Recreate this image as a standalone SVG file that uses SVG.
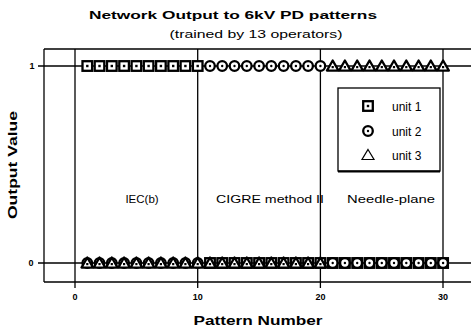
<svg xmlns="http://www.w3.org/2000/svg" xmlns:xlink="http://www.w3.org/1999/xlink" width="471" height="330" viewBox="0 0 471 330">
<style>
.ln{stroke:#000;stroke-width:1.3;fill:none}
.t{font-family:"Liberation Sans",Arial,sans-serif;fill:#000}
.b{font-weight:bold}
.mk{fill:#fff;stroke:#000;stroke-width:2.3}
</style>
<defs>
<g id="sq"><rect class="mk" x="-4.8" y="-4.8" width="9.6" height="9.6"/><rect x="-1.2" y="-1.2" width="2.4" height="2.4" fill="#000"/></g>
<g id="ci"><circle class="mk" r="4.8"/><circle r="1.2" fill="#000"/></g>
<g id="tr"><polygon class="mk" points="0,-5.5 5.8,4.6 -5.8,4.6" stroke-linejoin="round"/><rect x="-1.1" y="0" width="2.2" height="2.2" fill="#000"/></g>
</defs>
<rect width="471" height="330" fill="#fff"/>
<g id="axes">
<line class="ln" x1="44" y1="49" x2="471" y2="49"/>
<line class="ln" x1="44" y1="49" x2="44" y2="282"/>
<line class="ln" x1="44" y1="282" x2="471" y2="282"/>
<line class="ln" x1="75" y1="49" x2="75" y2="288"/>
<line class="ln" x1="197.7" y1="49" x2="197.7" y2="288"/>
<line class="ln" x1="320.4" y1="49" x2="320.4" y2="288"/>
<line class="ln" x1="443" y1="49" x2="443" y2="288"/>
<line class="ln" x1="38" y1="66" x2="471" y2="66"/>
<line class="ln" x1="38" y1="263" x2="471" y2="263"/>
</g>
<g id="markers">
<use xlink:href="#sq" x="87.3" y="66"/><use xlink:href="#sq" x="99.5" y="66"/><use xlink:href="#sq" x="111.8" y="66"/><use xlink:href="#sq" x="124.1" y="66"/><use xlink:href="#sq" x="136.4" y="66"/><use xlink:href="#sq" x="148.6" y="66"/><use xlink:href="#sq" x="160.9" y="66"/><use xlink:href="#sq" x="173.2" y="66"/><use xlink:href="#sq" x="185.4" y="66"/><use xlink:href="#sq" x="197.7" y="66"/>
<use xlink:href="#ci" x="210" y="66"/><use xlink:href="#ci" x="222.2" y="66"/><use xlink:href="#ci" x="234.5" y="66"/><use xlink:href="#ci" x="246.8" y="66"/><use xlink:href="#ci" x="259.1" y="66"/><use xlink:href="#ci" x="271.3" y="66"/><use xlink:href="#ci" x="283.6" y="66"/><use xlink:href="#ci" x="295.9" y="66"/><use xlink:href="#ci" x="308.1" y="66"/><use xlink:href="#ci" x="320.4" y="66"/>
<use xlink:href="#tr" x="332.7" y="66"/><use xlink:href="#tr" x="344.9" y="66"/><use xlink:href="#tr" x="357.2" y="66"/><use xlink:href="#tr" x="369.5" y="66"/><use xlink:href="#tr" x="381.8" y="66"/><use xlink:href="#tr" x="394" y="66"/><use xlink:href="#tr" x="406.3" y="66"/><use xlink:href="#tr" x="418.6" y="66"/><use xlink:href="#tr" x="430.8" y="66"/><use xlink:href="#tr" x="443.1" y="66"/>
<use xlink:href="#ci" x="87.3" y="263"/><use xlink:href="#ci" x="99.5" y="263"/><use xlink:href="#ci" x="111.8" y="263"/><use xlink:href="#ci" x="124.1" y="263"/><use xlink:href="#ci" x="136.4" y="263"/><use xlink:href="#ci" x="148.6" y="263"/><use xlink:href="#ci" x="160.9" y="263"/><use xlink:href="#ci" x="173.2" y="263"/><use xlink:href="#ci" x="185.4" y="263"/><use xlink:href="#ci" x="197.7" y="263"/>
<use xlink:href="#sq" x="210" y="263"/><use xlink:href="#sq" x="222.2" y="263"/><use xlink:href="#sq" x="234.5" y="263"/><use xlink:href="#sq" x="246.8" y="263"/><use xlink:href="#sq" x="259.1" y="263"/><use xlink:href="#sq" x="271.3" y="263"/><use xlink:href="#sq" x="283.6" y="263"/><use xlink:href="#sq" x="295.9" y="263"/><use xlink:href="#sq" x="308.1" y="263"/><use xlink:href="#sq" x="320.4" y="263"/>
<use xlink:href="#tr" x="87.3" y="263"/><use xlink:href="#tr" x="99.5" y="263"/><use xlink:href="#tr" x="111.8" y="263"/><use xlink:href="#tr" x="124.1" y="263"/><use xlink:href="#tr" x="136.4" y="263"/><use xlink:href="#tr" x="148.6" y="263"/><use xlink:href="#tr" x="160.9" y="263"/><use xlink:href="#tr" x="173.2" y="263"/><use xlink:href="#tr" x="185.4" y="263"/><use xlink:href="#tr" x="197.7" y="263"/>
<use xlink:href="#tr" x="210" y="263"/><use xlink:href="#tr" x="222.2" y="263"/><use xlink:href="#tr" x="234.5" y="263"/><use xlink:href="#tr" x="246.8" y="263"/><use xlink:href="#tr" x="259.1" y="263"/><use xlink:href="#tr" x="271.3" y="263"/><use xlink:href="#tr" x="283.6" y="263"/><use xlink:href="#tr" x="295.9" y="263"/><use xlink:href="#tr" x="308.1" y="263"/><use xlink:href="#tr" x="320.4" y="263"/>
<use xlink:href="#sq" x="332.7" y="263"/><use xlink:href="#sq" x="344.9" y="263"/><use xlink:href="#sq" x="357.2" y="263"/><use xlink:href="#sq" x="369.5" y="263"/><use xlink:href="#sq" x="381.8" y="263"/><use xlink:href="#sq" x="394" y="263"/><use xlink:href="#sq" x="406.3" y="263"/><use xlink:href="#sq" x="418.6" y="263"/><use xlink:href="#sq" x="430.8" y="263"/><use xlink:href="#sq" x="443.1" y="263"/>
<use xlink:href="#ci" x="332.7" y="263"/><use xlink:href="#ci" x="344.9" y="263"/><use xlink:href="#ci" x="357.2" y="263"/><use xlink:href="#ci" x="369.5" y="263"/><use xlink:href="#ci" x="381.8" y="263"/><use xlink:href="#ci" x="394" y="263"/><use xlink:href="#ci" x="406.3" y="263"/><use xlink:href="#ci" x="418.6" y="263"/><use xlink:href="#ci" x="430.8" y="263"/><use xlink:href="#ci" x="443.1" y="263"/>
</g>
<g id="legend">
<rect x="338" y="88" width="102" height="83" fill="#fff" stroke="#000" stroke-width="1.3"/>
<line x1="338" y1="171.5" x2="440" y2="171.5" stroke="#000" stroke-width="2"/>
<use xlink:href="#sq" x="368" y="106"/>
<use xlink:href="#ci" x="368" y="131"/>
<g transform="translate(368,155)"><polygon points="0,-5.5 6,4.5 -6,4.5" fill="#fff" stroke="#000" stroke-width="1.2"/></g>
<text class="t" x="392" y="111" font-size="12">unit 1</text>
<text class="t" x="392" y="136" font-size="12">unit 2</text>
<text class="t" x="392" y="160" font-size="12">unit 3</text>
</g>
<g id="labels">
<text class="t b" x="233" y="19" font-size="11.5" text-anchor="middle" textLength="288" lengthAdjust="spacingAndGlyphs">Network Output to 6kV PD patterns</text>
<text class="t" x="256" y="38" font-size="11" text-anchor="middle" textLength="173" lengthAdjust="spacingAndGlyphs">(trained by 13 operators)</text>
<text class="t" x="142" y="203" font-size="11.5" text-anchor="middle">IEC(b)</text>
<text class="t" x="270" y="203" font-size="11" text-anchor="middle" textLength="108" lengthAdjust="spacingAndGlyphs">CIGRE method II</text>
<text class="t" x="391" y="203" font-size="11" text-anchor="middle" textLength="88" lengthAdjust="spacingAndGlyphs">Needle-plane</text>
<text class="t b" x="32" y="69" font-size="9" text-anchor="middle">1</text>
<text class="t b" x="31" y="266" font-size="9" text-anchor="middle">0</text>
<text class="t b" x="75" y="300" font-size="9" text-anchor="middle">0</text>
<text class="t b" x="197.7" y="300" font-size="9" text-anchor="middle">10</text>
<text class="t b" x="320.4" y="300" font-size="9" text-anchor="middle">20</text>
<text class="t b" x="443" y="300" font-size="9" text-anchor="middle">30</text>
<text class="t b" x="258" y="325" font-size="12" text-anchor="middle" textLength="129" lengthAdjust="spacingAndGlyphs">Pattern Number</text>
<text class="t b" transform="translate(17,165) rotate(-90)" font-size="12" text-anchor="middle" textLength="108" lengthAdjust="spacingAndGlyphs">Output Value</text>
</g>
</svg>
